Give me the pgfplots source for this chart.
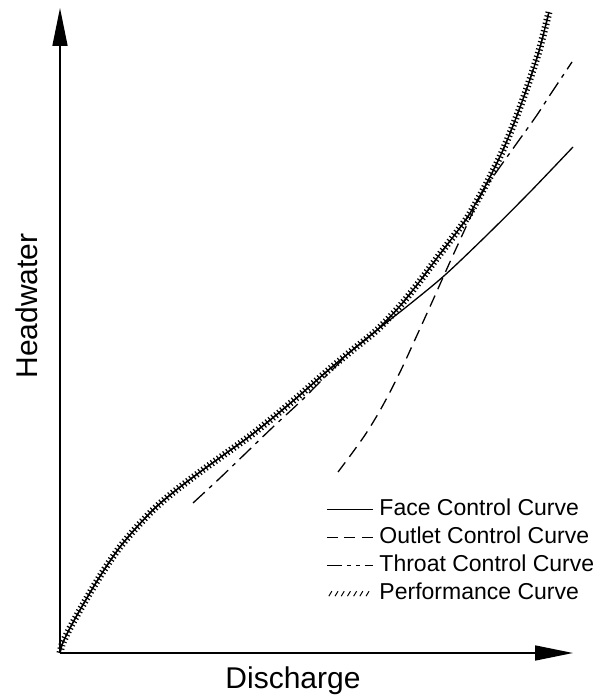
\documentclass[border=0pt]{standalone}
\usepackage{fontspec}
\setmainfont{Liberation Sans}
\usepackage{pgfplots}
\usepackage{pgfplotstable}
\pgfplotsset{compat=1.18}
\usetikzlibrary{arrows.meta}

\pgfplotstableread{
x y
0 0
2 8
5 15
10 25
16 36
24 50
34 67
46 86
60 106
76 125
95 145
115 162
140 181
165 199
190 217
215 237
240 258
265 280
290 301
317 323
350 349
385 378
427 418
470 461
513 506
}\facedata

\pgfplotstableread{
x y
278 181
290 197
305 218
318 239
330 261
342 285
353 309
373 353
385 380
400 413
417 450
430 476
443 503
456 535
468 568
479 602
489 641
}\outletdata

\pgfplotstableread{
x y
133 150
160 175
187 201
213 226
240 251
258 269
277 288
290 301
317 323
340 347
360 372
377 395
393 416
407 435
417 452
430 472
457 510
477 538
490 558
512 591
}\throatdata

\pgfplotstableread{
x y
0 0
2 8
5 15
10 25
16 36
24 50
34 67
46 86
60 106
76 125
95 145
115 162
140 181
165 199
190 217
215 237
240 258
265 280
290 301
317 323
340 347
360 372
377 395
393 416
407 435
417 452
430 476
443 503
456 535
468 568
479 602
489 641
}\perfdata

\begin{document}
\begin{tikzpicture}
\useasboundingbox (-60pt,-43pt) rectangle (539pt,653pt);
\begin{axis}[
  x=1pt, y=1pt,
  xmin=0, xmax=513, ymin=0, ymax=645,
  axis lines=left,
  axis line style={line width=1.6pt, -{Triangle[length=38pt,width=15pt]}},
  xtick=\empty, ytick=\empty,
  clip=false,
  xlabel={Discharge}, ylabel={Headwater},
  every axis x label/.style={at={(axis description cs:0.4542,-0.0558)}, anchor=base, inner sep=0pt, font=\fontsize{30}{36}\selectfont},
  every axis y label/.style={at={(axis description cs:-0.0448,0.538)}, rotate=90, anchor=base, inner sep=0pt, font=\fontsize{30}{36}\selectfont},
  legend style={at={(0.5185,0.2442)}, anchor=north west, draw=none, fill=none, inner sep=0pt, row sep=0pt, column sep=4pt,
    font=\fontsize{23}{27}\selectfont,
    nodes={inner xsep=2pt, inner ysep=2.5pt, text height=17pt, text depth=6pt}},
  legend cell align=left,
  legend image code/.code={\draw[#1] (0pt,0pt) -- (46pt,0pt);},
]
\addplot[line width=1.3pt, smooth, tension=0.5, forget plot] table {\facedata};
\addplot[line width=1.3pt, dash pattern=on 12pt off 7pt, smooth, tension=0.5, forget plot] table {\outletdata};
\addplot[line width=1.3pt, dash pattern=on 16pt off 6pt on 4pt off 6pt, smooth, tension=0.5, forget plot] table {\throatdata};
\addplot[line width=1.4pt, smooth, tension=0.5, forget plot,
  postaction={draw, line width=7pt, dash pattern=on 1.2pt off 2.6pt}] table {\perfdata};

\addlegendimage{line width=1.3pt}
\addlegendimage{line width=1.3pt, dash pattern=on 11pt off 6.5pt}
\addlegendimage{line width=1.3pt, dash pattern=on 15pt off 5pt on 4pt off 5pt on 4pt off 5pt on 8pt off 10pt}
\addlegendimage{legend image code/.code={\foreach \k in {0,...,6}{\draw[line width=1pt] ({\k*6.2pt+2pt},-2.5pt) -- ({\k*6.2pt+5pt},2.5pt);}}}
\legend{Face Control Curve, Outlet Control Curve, Throat Control Curve, Performance Curve}
\end{axis}
\end{tikzpicture}
\end{document}
